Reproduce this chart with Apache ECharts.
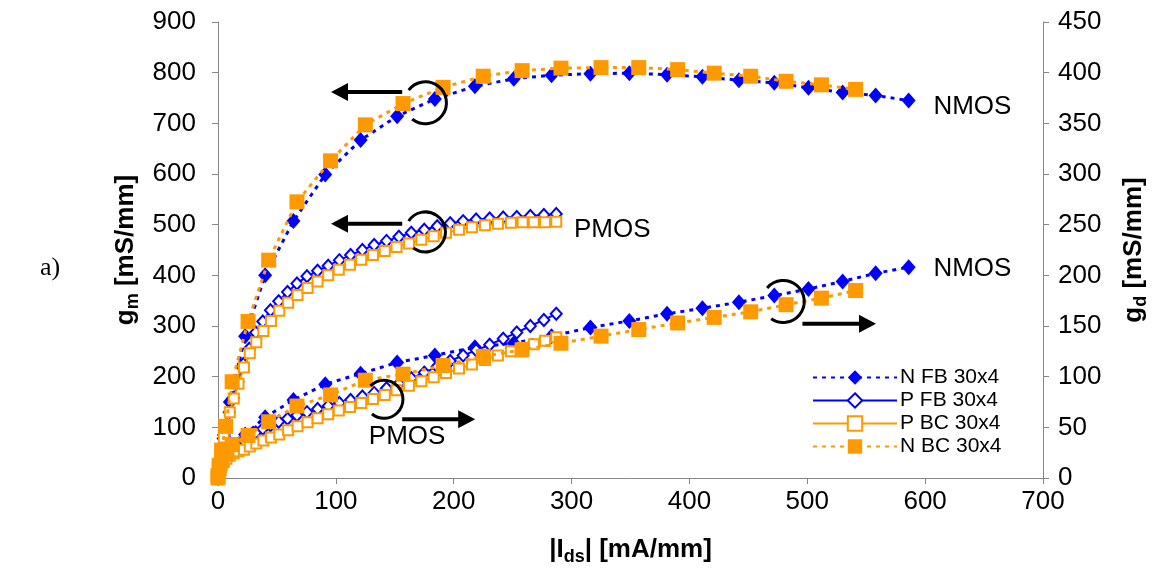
<!DOCTYPE html>
<html><head><meta charset="utf-8">
<script src="https://cdn.jsdelivr.net/npm/echarts@6/dist/echarts.min.js"></script>
<style>html,body{margin:0;padding:0;background:#fff}#c{width:1158px;height:571px}</style>
</head><body><div id="c"></div>
<script>
// ---------- data ----------
const legendNames = ['N FB 30x4', 'P FB 30x4', 'P BC 30x4', 'N BC 30x4'];

const xTicks = [0, 100, 200, 300, 400, 500, 600, 700];
const gmTicks = [0, 100, 200, 300, 400, 500, 600, 700, 800, 900];
const gdTicks = [0, 50, 100, 150, 200, 250, 300, 350, 400, 450];

const nfbIds = [0, 1, 2.5, 5, 10, 23, 40, 64, 91, 121, 152, 184, 218, 251, 283, 316, 349, 381, 411, 442, 472, 501, 530, 558, 586];
const nfbGm  = [5, 22, 48, 85, 150, 280, 400, 507, 599, 667, 714, 748, 773, 788, 795, 798, 799, 796, 792, 785, 780, 770, 761, 755, 745];
const nfbGd  = [0, 9, 17, 26, 34, 43, 60, 77, 92.5, 103, 114, 121, 129, 133, 140, 148.5, 155, 162, 167.5, 173.5, 180, 186.5, 194, 202, 208];

const nbcIds = [0, 1, 3, 6.5, 12, 25.5, 43, 67, 95.5, 125, 157, 191, 225, 258, 291, 325, 357, 390, 421, 452, 482, 512, 541];
const nbcGm  = [5, 25, 55, 102, 190, 309, 430, 545, 626, 697, 739, 771, 793, 804, 809, 810, 810, 806, 799, 793, 783, 776, 767];
const nbcGd  = [0, 9, 17, 25, 33, 42, 55.5, 71, 82, 96.5, 102.5, 111, 120, 126.5, 133, 140, 146.5, 153, 158.5, 164, 171, 177.5, 185];

const pfbIds = [0, 0.3, 0.8, 1.6, 2.8, 4.5, 6.8, 9.6, 13, 17, 21.5, 26.5, 32, 38, 44.5, 51.5, 59, 67, 75.5, 84.5, 93.5, 103, 112.5, 122.5, 132.5, 143, 153.5, 164, 175, 186, 197, 208, 219, 230.5, 242, 253.5, 265, 276.5, 287];
const pfbGm  = [5, 12, 22, 36, 55, 78, 103, 130, 158, 190, 225, 255, 287, 309, 331, 349, 367, 384, 398, 409, 419, 430, 440, 450, 460, 468, 476, 484, 490, 497, 503, 507, 510, 512, 514, 515, 517, 519, 521];
const pfbGd  = [0, 2, 5, 9, 13, 17, 21, 25, 29, 33, 37, 41, 45, 48.5, 52, 55.5, 58.5, 62, 65, 68, 71, 74, 77, 80.5, 84, 88.5, 93, 98.5, 104, 110, 115.5, 121, 126, 131.5, 137.5, 143.5, 150, 156, 162];

const pbcIds = [0, 0.3, 0.9, 1.8, 3.1, 4.9, 7.2, 10, 13.4, 17.4, 22, 27, 32.5, 38.5, 45, 52, 59.5, 67.5, 76, 84.5, 93.5, 102.5, 112, 121.5, 131.5, 141.5, 151.5, 162, 172.5, 183, 193.5, 204.5, 215.5, 226.5, 237.5, 248.5, 258.5, 268, 277.5, 287];
const pbcGm  = [5, 12, 23, 38, 57, 80, 104, 130, 157, 186, 218, 246, 268, 290, 310, 330, 346, 361, 375, 388, 400, 411, 421, 431, 440, 448, 456, 463, 470, 477, 484, 490, 495, 499, 502, 504, 505, 505, 505, 506];
const pbcGd  = [0, 2, 5, 9, 12.5, 16, 19, 22, 24.5, 26.5, 28, 31, 34, 37, 40, 43, 47, 51, 55, 59, 63, 66.5, 70, 74, 78, 82, 86.5, 91, 95.5, 99.5, 103.5, 108, 112, 116.5, 121, 125, 128.5, 132, 135.5, 139];

// annotations in data coordinates (axis 0 = gm, axis 1 = gd)
const annoTexts = [
  { text: 'NMOS', x: 607, y: 733, axis: 0 },
  { text: 'PMOS', x: 302, y: 490, axis: 0 },
  { text: 'NMOS', x: 607, y: 206.9, axis: 1 },
  { text: 'PMOS', x: 128, y: 40.2, axis: 1 }
];
const arrows = [
  { from: [156.3, 762], to: [95.9, 762], axis: 0 },
  { from: [156.3, 502], to: [95.9, 502], axis: 0 },
  { from: [495.9, 152.3], to: [558.3, 152.3], axis: 1 },
  { from: [156.3, 58.1], to: [218.2, 58.1], axis: 1 }
];
const rings = [
  { c: [176, 740.6], axis: 0, r: 21, a0: -143, a1: 129 },
  { c: [176, 485.7], axis: 0, r: 20, a0: -147, a1: 127 },
  { c: [479.6, 174.2], axis: 1, r: 21, a0: -140, a1: 125 },
  { c: [140.8, 77.7], axis: 1, r: 19, a0: -135, a1: 129 }
];

// ---------- chart ----------
const F = '"Liberation Sans", Arial, sans-serif';
const BLUE = '#0000FF', ORANGE = '#FF9900', AXIS = '#868686';
function zip(xs, ys) { return xs.map((x, i) => [x, ys[i]]); }

const styles = {
  'N FB 30x4': { symbol: 'diamond', symbolSize: [14, 16], itemStyle: { color: BLUE }, lineStyle: { color: BLUE, width: 3, type: [4, 5] } },
  'P FB 30x4': { symbol: 'diamond', symbolSize: [11, 12], itemStyle: { color: '#fff', borderColor: BLUE, borderWidth: 2 }, lineStyle: { color: BLUE, width: 2 } },
  'P BC 30x4': { symbol: 'rect', symbolSize: 10, itemStyle: { color: '#fff', borderColor: ORANGE, borderWidth: 2 }, lineStyle: { color: ORANGE, width: 2 } },
  'N BC 30x4': { symbol: 'rect', symbolSize: 15, itemStyle: { color: ORANGE }, lineStyle: { color: ORANGE, width: 3, type: [4, 5] } }
};
const seriesDefs = [
  ['N FB 30x4', nfbIds, nfbGm, 0], ['N FB 30x4', nfbIds, nfbGd, 1],
  ['P FB 30x4', pfbIds, pfbGm, 0], ['P FB 30x4', pfbIds, pfbGd, 1],
  ['P BC 30x4', pbcIds, pbcGm, 0], ['P BC 30x4', pbcIds, pbcGd, 1],
  ['N BC 30x4', nbcIds, nbcGm, 0], ['N BC 30x4', nbcIds, nbcGd, 1]
];
const series = seriesDefs.map((d, i) => Object.assign({
  type: 'line', name: d[0], data: zip(d[1], d[2]), yAxisIndex: d[3],
  showSymbol: true, animation: false, silent: true, z: 2 + i,
  emphasis: { disabled: true }
}, styles[d[0]]));

const titleRich = {
  b: { fontSize: 26, fontWeight: 'bold', fontFamily: F, color: '#000' },
  s: { fontSize: 18, fontWeight: 'bold', fontFamily: F, color: '#000', padding: [14, 0, 0, 0] }
};
function yAxisDef(ticks, name, gap, margin) {
  return {
    type: 'value', min: ticks[0], max: ticks[ticks.length - 1], interval: ticks[1] - ticks[0],
    name: name, nameLocation: 'middle', nameGap: gap, nameTextStyle: { rich: titleRich },
    axisLine: { show: true, lineStyle: { color: AXIS, width: 1 } },
    axisTick: { show: true, inside: false, length: 6, lineStyle: { color: AXIS } },
    axisLabel: { fontSize: 26, color: '#000', fontFamily: F, margin: margin },
    splitLine: { show: false }
  };
}

const option = {
  backgroundColor: '#fff',
  animation: false,
  grid: { left: 218, right: 110, top: 22, bottom: 90, containLabel: false },
  legend: {
    data: legendNames, orient: 'vertical', left: 812, top: 367, padding: 0,
    itemWidth: 84, itemHeight: 18, itemGap: 2,
    textStyle: { fontSize: 21, lineHeight: 19, fontFamily: F, color: '#000', padding: [0, 0, 0, -2] },
    selectedMode: false
  },
  xAxis: {
    type: 'value', min: xTicks[0], max: xTicks[xTicks.length - 1], interval: xTicks[1] - xTicks[0],
    name: '{b||I}{s|ds}{b|| [mA/mm]}', nameLocation: 'middle', nameGap: 56,
    nameTextStyle: { rich: titleRich },
    axisLine: { show: true, onZero: false, lineStyle: { color: AXIS, width: 1 } },
    axisTick: { show: true, inside: false, length: 6, lineStyle: { color: AXIS } },
    axisLabel: { fontSize: 26, color: '#000', fontFamily: F, margin: 11 },
    splitLine: { show: false }
  },
  yAxis: [
    yAxisDef(gmTicks, '{b|g}{s|m}{b| [mS/mm]}', 75, 22),
    yAxisDef(gdTicks, '{b|g}{s|d}{b| [mS/mm]}', 75, 15)
  ],
  series: series
};

const chart = echarts.init(document.getElementById('c'), null, { renderer: 'canvas' });
chart.setOption(option);

function px(pt, axis) { return chart.convertToPixel({ xAxisIndex: 0, yAxisIndex: axis }, pt); }
const g = [];
arrows.forEach(a => {
  const p0 = px(a.from, a.axis), p1 = px(a.to, a.axis);
  const dx = p1[0] - p0[0], dy = p1[1] - p0[1], len = Math.hypot(dx, dy);
  const ux = dx / len, uy = dy / len, L = 17, W = 9;
  const bx = p1[0] - ux * L, by = p1[1] - uy * L;
  g.push({ type: 'line', silent: true, shape: { x1: p0[0], y1: p0[1], x2: bx + ux * 2, y2: by + uy * 2 }, style: { stroke: '#000', lineWidth: 4 }, z: 50 });
  g.push({ type: 'polygon', silent: true, shape: { points: [[p1[0], p1[1]], [bx - uy * W, by + ux * W], [bx + uy * W, by - ux * W]] }, style: { fill: '#000' }, z: 50 });
});
rings.forEach(r => {
  const c = px(r.c, r.axis);
  g.push({ type: 'arc', silent: true, shape: { cx: c[0], cy: c[1], r: r.r, startAngle: r.a0 * Math.PI / 180, endAngle: r.a1 * Math.PI / 180, clockwise: true }, style: { stroke: '#000', lineWidth: 3, fill: 'none' }, z: 50 });
});
annoTexts.forEach(t => {
  const p = px([t.x, t.y], t.axis);
  g.push({ type: 'text', silent: true, x: p[0], y: p[1], style: { text: t.text, fontSize: 26, fontFamily: F, fill: '#000', verticalAlign: 'middle', align: 'left' }, z: 50 });
});
g.push({ type: 'text', silent: true, left: 40, top: 255, style: { text: 'a)', fontSize: 26, fontFamily: '"Liberation Serif", "Times New Roman", serif', fill: '#000' } });
chart.setOption({ graphic: g });
</script>
</body></html>
